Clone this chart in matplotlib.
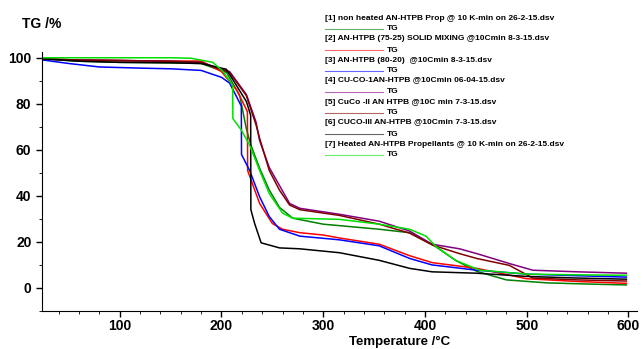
import matplotlib.pyplot as plt

plt.rcParams['font.family'] = ['Liberation Sans', 'DejaVu Sans']
plt.rcParams['font.weight'] = 'bold'

# temperature (C) / mass (%)
t1 = [25, 60, 100, 150, 180, 205, 218, 224.5, 229, 237.5, 247, 257, 270, 300, 355, 385, 407, 430, 451, 480, 520, 560, 598]
m1 = [99.5, 98.5, 98, 97.8, 97.5, 93.6, 83.5, 69, 62, 52, 42.5, 35, 30.3, 27.7, 25.5, 24, 19, 12, 7.2, 3.5, 2.2, 1.7, 1.3]

t2 = [25, 60, 100, 150, 180, 200, 215, 225.5, 225.7, 237.5, 250, 260, 277, 300, 316, 355, 385, 407, 451, 500, 550, 598]
m2 = [99.5, 99, 98.8, 98.5, 98.6, 94, 86, 76.6, 51, 36.7, 28, 25.5, 24, 23, 21.7, 19, 14, 11, 8.5, 4, 2.8, 2]

t3 = [25, 50, 80, 120, 150, 180, 200, 208, 219.5, 219.7, 227.7, 237.5, 247, 257, 277, 316, 355, 385, 407, 451, 500, 550, 598]
m3 = [99, 97.5, 96, 95.5, 95.2, 94.5, 91.5, 89, 79, 58, 51, 39.6, 31, 25.5, 22.5, 20.9, 18.3, 12.8, 10, 7.7, 6, 5.3, 4.7]

t4 = [25, 60, 100, 150, 180, 208, 224.5, 234, 237.5, 247, 267, 277, 316, 355, 385, 407, 434, 451, 483, 506, 550, 598]
m4 = [99.5, 99, 98.8, 98.5, 98, 94, 84, 72, 64, 52.3, 36.7, 34.6, 32, 29, 24.7, 19, 17, 14.9, 10.6, 7.7, 7, 6.4]

t5 = [25, 60, 100, 150, 180, 208, 224.5, 234, 237.5, 247, 257, 267, 277, 316, 355, 385, 407, 434, 451, 483, 506, 550, 598]
m5 = [99.5, 99, 98.8, 98.5, 98, 93.6, 83.5, 70.8, 65, 51, 42.5, 36, 34, 31.5, 27.7, 23.8, 18.7, 14.9, 12.8, 9.8, 4.3, 3.5, 3]

t6 = [25, 60, 100, 150, 180, 204.8, 224.5, 228.7, 228.9, 232.6, 239, 257, 277, 316, 355, 385, 407, 451, 500, 550, 598]
m6 = [99.5, 98.5, 98, 97.8, 97.5, 95, 81, 75, 34, 28, 19.6, 17.4, 17, 15.3, 12, 8.5, 7, 6.4, 5, 4.3, 3.8]

t7 = [25, 60, 100, 150, 170, 191.5, 201.6, 211, 211.2, 219.5, 227.7, 237.5, 247, 260, 270, 316, 355, 385, 401, 411, 430, 454, 500, 550, 598]
m7 = [100, 100, 100, 100, 99.8, 98, 94, 88, 73.6, 68.6, 62, 51, 41, 32.5, 30.3, 29.8, 27.7, 25.5, 22.5, 18, 12, 7.7, 6, 5.7, 5.5]

temps = [t1, t2, t3, t4, t5, t6, t7]
masses = [m1, m2, m3, m4, m5, m6, m7]
colors = ['#008000', '#ff0000', '#0000ff', '#800080', '#800000', '#000000', '#00e000']
names = ['[1] non heated AN-HTPB Prop @ 10 K-min on 26-2-15.dsv',
         '[2] AN-HTPB (75-25) SOLID MIXING @10Cmin 8-3-15.dsv',
         '[3] AN-HTPB (80-20)  @10Cmin 8-3-15.dsv',
         '[4] CU-CO-1AN-HTPB @10Cmin 06-04-15.dsv',
         '[5] CuCo -II AN HTPB @10C min 7-3-15.dsv',
         '[6] CUCO-III AN-HTPB @10Cmin 7-3-15.dsv',
         '[7] Heated AN-HTPB Propellants @ 10 K-min on 26-2-15.dsv']

fig = plt.figure(figsize=(6.43, 3.49), dpi=100)
ax = fig.add_axes([0.065, 0.109, 0.925, 0.742])

for t, m, c in zip(temps, masses, colors):
    ax.plot(t, m, color=c, lw=1.1)

ax.set_xlim(23.4, 608)
ax.set_ylim(-7.7, 102.5)
ax.set_xticks([100, 200, 300, 400, 500, 600])
ax.set_yticks([0, 20, 40, 60, 80, 100])
ax.set_xticks(range(40, 601, 20), minor=True)
ax.set_yticks(range(-10, 101, 10), minor=True)
ax.tick_params(labelsize=10, length=4, width=1)
ax.tick_params(axis='x', pad=2)
ax.tick_params(which='minor', length=2)
for s in ['top', 'right']:
    ax.spines[s].set_visible(False)
fig.text(400 / 643, 1 - 342 / 349, 'Temperature /°C', fontsize=9.5, fontweight='bold',
         ha='center', va='center')
fig.text(0.034, 1 - 24 / 349, 'TG /%', fontsize=10, fontweight='bold', va='center')

# legend block
for i, (name, c) in enumerate(zip(names, colors)):
    y0 = 1 - (18 + 21 * i) / 349
    y1 = 1 - (29 + 21 * i) / 349
    fig.text(325 / 643, y0, name, fontsize=6, fontweight='bold', va='center')
    fig.add_artist(plt.Line2D([325 / 643, 383 / 643], [y1, y1], color=c, lw=0.8, alpha=0.6))
    fig.text(387 / 643, y1, 'TG', fontsize=6, fontweight='bold', va='center')

fig.savefig('out.png', dpi=100)
